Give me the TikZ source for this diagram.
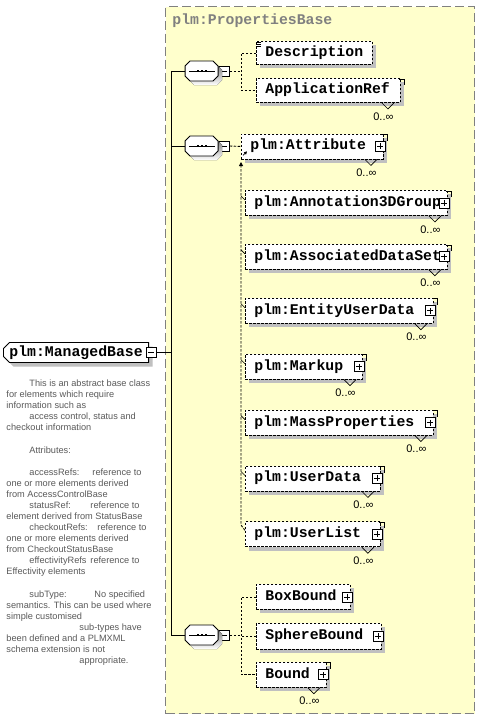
\documentclass[tikz,border=0pt]{standalone}
\usepackage{fontspec}
\setmainfont{Liberation Sans}
\newfontfamily\elemfamily{Liberation Mono}
\usetikzlibrary{positioning,shapes.misc,shadows,arrows.meta}
\definecolor{pane}{RGB}{255,255,204}
\definecolor{shade}{RGB}{192,192,192}
\definecolor{frame}{RGB}{128,128,128}
\definecolor{doc}{RGB}{90,90,90}

\begin{document}
\begin{tikzpicture}[x=1pt,y=-1pt,line width=0.9pt,
group/.style={draw=frame,fill=pane,dash pattern=on 9pt off 4pt,line width=1.2pt,
    anchor=north west,inner sep=0pt},
title/.style={font=\elemfamily\bfseries\fontsize{14.8pt}{17pt}\selectfont,
    text=frame,anchor=west,inner sep=0pt},
elem/.style={draw,dash pattern=on 2.5pt off 1.5pt,fill=white,
    font=\elemfamily\bfseries\fontsize{14.8pt}{17pt}\selectfont,
    inner xsep=9pt,inner ysep=0pt,minimum height=25pt,
    text height=10pt,text depth=3pt,align=left,anchor=north west,
    drop shadow={shadow xshift=4pt,shadow yshift=-4pt,fill=shade,opacity=1}},
root/.style={elem,solid,chamfered rectangle,
    chamfered rectangle corners={north west,south west},
    chamfered rectangle xsep=3pt,chamfered rectangle ysep=3pt,
    inner xsep=3pt,minimum height=20pt,anchor=west},
seq/.style={minimum width=33pt,minimum height=20pt,inner sep=0pt},
box/.style={draw,solid,fill=white,minimum size=10pt,inner sep=0pt,line width=0.8pt},
minus/.style={box,path picture={
    \draw ([xshift=2pt]path picture bounding box.west)
      -- ([xshift=-2pt]path picture bounding box.east);}},
plus/.style={box,path picture={
    \draw ([xshift=2pt]path picture bounding box.west)
      -- ([xshift=-2pt]path picture bounding box.east);
    \draw ([yshift=-2pt]path picture bounding box.north)
      -- ([yshift=2pt]path picture bounding box.south);}},
link/.style={dash pattern=on 2.5pt off 1.5pt},
mult/.style={font=\fontsize{11pt}{12pt}\selectfont,inner sep=0pt,anchor=north east},
note/.style={font=\fontsize{9.2pt}{11.08pt}\selectfont,text=doc,align=left,
    anchor=north west,inner sep=0pt}]
\fill[white] (0,0) rectangle (480,720);
\useasboundingbox (0,0) rectangle (480,720);

\node[group,minimum width=309pt,minimum height=707pt] (props) at (165,6) {};
\node[title] (ptitle) at (172,21) {plm:PropertiesBase};

\node[root] (mb) at (3,352.5) {plm:ManagedBase};
\node[minus] (mbm) at ([xshift=2pt]mb.east) {};
\node[note] (doc) at (6,379.5) {%
\hspace*{23pt}This is an abstract base class\\
for elements which require\\
information such as\\
\hspace*{23pt}access control, status and\\
checkout information\\[11.08pt]
\hspace*{23pt}Attributes:\\[11.08pt]
\hspace*{23pt}\makebox[63pt][l]{accessRefs:}reference to\\
one or more elements derived\\
from AccessControlBase\\
\hspace*{23pt}\makebox[61pt][l]{statusRef:}reference to\\
element derived from StatusBase\\
\hspace*{23pt}\makebox[68pt][l]{checkoutRefs:}reference to\\
one or more elements derived\\
from CheckoutStatusBase\\
\hspace*{23pt}\makebox[61pt][l]{effectivityRefs}reference to\\
Effectivity elements\\[11.08pt]
\hspace*{23pt}\makebox[65pt][l]{subType:}No specified\\
semantics. This can be used where\\
simple customised\\
\hspace*{73pt}sub-types have\\
been defined and a PLMXML\\
schema extension is not\\
\hspace*{73pt}appropriate.};

\node[seq] (seqa) at (202,71) {};
\node[minus,right=0pt of seqa] (ma) {};
\node[seq] (seqb) at (202,146) {};
\node[minus,right=0pt of seqb] (mbb) {};
\node[seq] (seqc) at (202,635) {};
\node[minus,right=0pt of seqc] (mc) {};
\foreach \n in {seqa,seqb,seqc}{
  \fill[shade] ([xshift=4pt,yshift=-4pt]\n.west) -- ++(0,-5) -- ++(5,-5) -- ++(23,0)
    -- ++(5,5) -- ++(0,10) -- ++(-5,5) -- ++(-23,0) -- ++(-5,-5) -- cycle;
  \filldraw[fill=white] (\n.west) -- ++(0,-5) -- ++(5,-5) -- ++(23,0)
    -- ++(5,5) -- ++(0,10) -- ++(-5,5) -- ++(-23,0) -- ++(-5,-5) -- cycle;
  \draw[line width=0.8pt] ([xshift=4pt]\n.west) -- ([xshift=-4pt]\n.east);
  \foreach \d in {-4,0,4}
    \fill ([xshift=\d pt]\n.center) +(-1.3,-1.3) rectangle +(1.3,1.3);
}

\coordinate (spine) at (171,0);
\draw (mbm.east) -- (mbm.east -| spine);
\draw (seqa.west) -- (seqa.west -| spine) -- (seqc.west -| spine) -- (seqc.west);
\draw (seqb.west) -- (seqb.west -| spine);

\node[elem,text width=98pt,minimum height=23pt] (desc) at (256,41) {Description};
\node[elem,text width=126pt,minimum height=24pt] (appref) at (256,78) {ApplicationRef};
\foreach \k in {1,3,5}
  \draw[line width=0.6pt] ([yshift=-\k pt]desc.north west) -- ++(5,0);
\coordinate (bra) at (241,0);
\draw[link] (ma.east) -- (ma.east -| bra);
\draw[link] (desc.west) -- (desc.west -| bra) |- (appref.west);

\node[elem,text width=124pt] (attr) at (241,133.5) {plm:Attribute};
\draw[link] (mbb.east) -- (attr.west);
\node[elem,text width=184pt] (anno) at (245,190) {plm:Annotation3DGroup};
\node[elem,text width=184pt,below=28pt of anno.south west,anchor=north west] (assoc) {plm:AssociatedDataSet};
\node[elem,text width=170pt,below=28pt of assoc.south west,anchor=north west] (eud) {plm:EntityUserData};
\node[elem,text width=99pt,below=30pt of eud.south west,anchor=north west] (markup) {plm:Markup};
\node[elem,text width=170pt,below=30pt of markup.south west,anchor=north west] (mass) {plm:MassProperties};
\node[elem,text width=117pt,below=30pt of mass.south west,anchor=north west] (udata) {plm:UserData};
\node[elem,text width=117pt,below=30pt of udata.south west,anchor=north west] (ulist) {plm:UserList};
\coordinate (subtop) at (241,162);
\coordinate (subbot) at (241,525);
\draw[link,-{Triangle[length=4pt,width=4pt]}] ([yshift=-9pt]ulist.north west) -- (subbot) -- (subtop);
\draw[line width=0.6pt,-{Triangle[length=3pt,width=3pt]}] ([xshift=2pt,yshift=4pt]attr.south west) -- ++(4,-4);
\foreach \n in {anno,assoc,eud,markup,mass,udata}
  \draw[line width=0.6pt] ([yshift=-10pt]\n.north west) -- ++(-4,-4);

\node[elem,text width=76pt] (boxb) at (256,584) {BoxBound};
\node[elem,text width=107pt,minimum height=26pt,below=13pt of boxb.south west,anchor=north west] (sphere) {SphereBound};
\node[elem,text width=52pt,below=12pt of sphere.south west,anchor=north west] (bound) {Bound};
\coordinate (brc) at (241,0);
\draw[link] (mc.east) -- (mc.east -| brc);
\draw[link] (boxb.west) -- (boxb.west -| brc) |- (bound.west);
\draw[link] (sphere.west) -- (sphere.west -| brc);

\foreach \n in {attr,anno,assoc,eud,markup,mass,udata,ulist,boxb,sphere,bound}
  \node[plus] at ([xshift=-4pt]\n.east) {};
\foreach \n in {appref,attr,anno,assoc,eud,markup,mass,udata,ulist,bound}{
  \draw[line width=0.7pt] ([xshift=-2pt,yshift=-1pt]\n.north east) -- ++(5,0) -- ++(0,6);
  \draw[line width=0.7pt] ([xshift=-19pt]\n.south east) -- ++(6,6) -- ++(6,-6);
  \node[mult] at ([xshift=-7pt,yshift=-9pt]\n.south east) {0..∞};
}
\end{tikzpicture}
\end{document}
